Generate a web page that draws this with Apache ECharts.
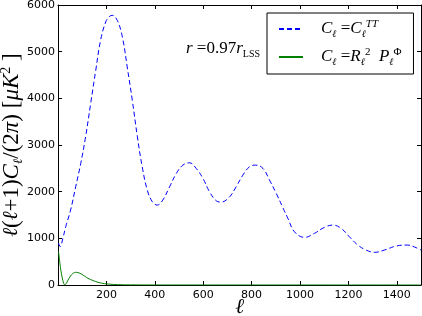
<!DOCTYPE html>
<html>
<head>
<meta charset="utf-8">
<script src="https://cdn.jsdelivr.net/npm/echarts@6/dist/echarts.min.js"></script>
<style>html,body{margin:0;padding:0;background:#fff;}#c{width:422px;height:316px;}</style>
</head>
<body>
<div id="c"></div>
<script>
// Blue dashed: C_l = C_l^TT
var ttEll = [2, 9, 20, 32, 52, 73, 94, 114, 135, 156, 176, 197, 212, 224, 245, 266, 286, 307, 328, 348, 369, 390, 410, 433, 461, 489, 516, 544, 571, 599, 626, 654, 675, 709, 736, 764, 791, 816, 847, 874, 902, 929, 950, 977, 1019, 1060, 1101, 1136, 1170, 1204, 1239, 1273, 1308, 1349, 1397, 1445, 1480, 1500];
var ttVal = [900, 820, 1000, 1249, 1605, 2104, 2605, 3175, 3889, 4602, 5244, 5636, 5750, 5779, 5672, 5315, 4673, 3960, 3175, 2532, 2033, 1783, 1712, 1820, 2104, 2391, 2569, 2618, 2498, 2284, 1998, 1805, 1777, 1890, 2104, 2355, 2532, 2569, 2498, 2248, 1962, 1660, 1427, 1141, 1020, 1107, 1235, 1284, 1213, 1034, 856, 749, 700, 749, 835, 856, 799, 750];
// Green solid: C_l = R_l^2 P_l^Phi
var phiEll = [2, 6, 10, 14, 20, 28, 35, 45, 60, 76, 95, 110, 124, 145, 165, 185, 200, 230, 260, 300, 400, 500, 800, 1100, 1500];
var phiVal = [720, 550, 380, 250, 100, 5, 40, 140, 240, 272, 240, 190, 143, 95, 58, 35, 25, 12, 6, 3, 1, 0.5, 0.2, 0.1, 0.05];
var xTicks = [200, 400, 600, 800, 1000, 1200, 1400];
var yTicks = [0, 1000, 2000, 3000, 4000, 5000, 6000];

function pairs(a, b) { return a.map(function (v, i) { return [v, b[i]]; }); }

var serif = '"Liberation Serif", "DejaVu Serif", serif';
var ellFont = '"DejaVu Serif", serif';
function mkRich(big, small, lh) {
  return {
    sp: { fontSize: big, width: 13, lineHeight: lh },
    m: { fontFamily: serif, fontStyle: 'italic', fontSize: big, color: '#000', lineHeight: lh, verticalAlign: 'middle' },
    l: { fontFamily: ellFont, fontStyle: 'italic', fontSize: big - 2, color: '#000', lineHeight: lh, verticalAlign: 'middle' },
    u: { fontFamily: serif, fontSize: big, color: '#000', lineHeight: lh, verticalAlign: 'middle' },
    s: { fontFamily: ellFont, fontStyle: 'italic', fontSize: small - 1, color: '#000', lineHeight: small, verticalAlign: 'bottom' },
    su: { fontFamily: serif, fontSize: small, color: '#000', lineHeight: small, verticalAlign: 'bottom' },
    p: { fontFamily: serif, fontStyle: 'italic', fontSize: small, color: '#000', lineHeight: small, verticalAlign: 'top' },
    pu: { fontFamily: serif, fontSize: small, color: '#000', lineHeight: small, verticalAlign: 'top' }
  };
}

var chart = echarts.init(document.getElementById('c'), null, { renderer: 'canvas' });
function axisCommon() {
  return {
    axisLine: { show: true, onZero: false, lineStyle: { color: '#000', width: 1 } },
    axisTick: { show: true, inside: true, length: 4, lineStyle: { color: '#000' } },
    splitLine: { show: false },
    nameMoveOverlap: false
  };
}
chart.setOption({
  animation: false,
  backgroundColor: '#fff',
  grid: { left: 58, right: 1, top: 5, bottom: 31, containLabel: false, outerBoundsMode: 'none' },
  xAxis: [
    Object.assign({
      type: 'value', min: 0, max: 1500, interval: 200, position: 'bottom',
      axisLabel: { color: '#000', fontFamily: '"DejaVu Sans"', fontSize: 11, margin: 5,
        formatter: function (v) { return xTicks.indexOf(v) >= 0 ? String(v) : ''; } },
      name: '{x|ℓ}', nameLocation: 'middle', nameGap: 12,
      nameTextStyle: { rich: { x: { fontFamily: ellFont, fontStyle: 'italic', fontSize: 21, color: '#000', lineHeight: 22 } } }
    }, axisCommon()),
    Object.assign({
      type: 'value', min: 0, max: 1500, interval: 200, position: 'top',
      axisLabel: { show: false }
    }, axisCommon())
  ],
  yAxis: [
    Object.assign({
      type: 'value', min: 0, max: 6000, interval: 1000, position: 'left',
      axisLabel: { color: '#000', fontFamily: '"DejaVu Sans"', fontSize: 11, margin: 3,
        formatter: function (v) { return yTicks.indexOf(v) >= 0 ? String(v) : ''; } },
      name: '{l|ℓ}{u|(}{l|ℓ}{u|+1)}{m|C}{s|ℓ}{u|/(2}{m|π}{u|) [}{m|μK}{pu|2}{u| ]}',
      nameLocation: 'middle', nameGap: 33, nameRotate: 90,
      nameTextStyle: { rich: mkRich(23, 14, 26) }
    }, axisCommon()),
    Object.assign({
      type: 'value', min: 0, max: 6000, interval: 1000, position: 'right',
      axisLabel: { show: false }
    }, axisCommon())
  ],
  legend: {
    orient: 'vertical', left: 267, top: 13,
    backgroundColor: '#fff', borderColor: '#000', borderWidth: 1, borderRadius: 0,
    padding: [6, 12, 7, 11],
    itemWidth: 24, itemHeight: 14, itemGap: 8,
    itemStyle: { opacity: 0 },
    data: ['tt', 'phi'],
    textStyle: { rich: mkRich(17, 11, 20) },
    formatter: function (name) {
      if (name === 'tt') return '{sp|}{m|C}{s|ℓ}{u| =}{m|C}{s|ℓ}{p|TT}';
      return '{sp|}{m|C}{s|ℓ}{u| =}{m|R}{s|ℓ}{pu|2}{u|  }{m|P}{s|ℓ}{pu|Φ}';
    }
  },
  graphic: [{
    type: 'text', right: 162, top: 40,
    style: {
      text: '{m|r}{u| =0.97}{m|r}{su|LSS}',
      rich: mkRich(17, 10, 22)
    }
  }],
  series: [
    { name: 'tt', type: 'line', data: pairs(ttEll, ttVal), smooth: 0.4, showSymbol: false, symbol: 'none',
      lineStyle: { color: '#0000ff', width: 1, type: [5, 3] }, itemStyle: { color: '#0000ff' }, z: 3 },
    { name: 'phi', type: 'line', data: pairs(phiEll, phiVal), smooth: 0.4, showSymbol: false, symbol: 'none',
      lineStyle: { color: '#008000', width: 1 }, itemStyle: { color: '#008000' }, z: 2 }
  ]
});
</script>
</body>
</html>
